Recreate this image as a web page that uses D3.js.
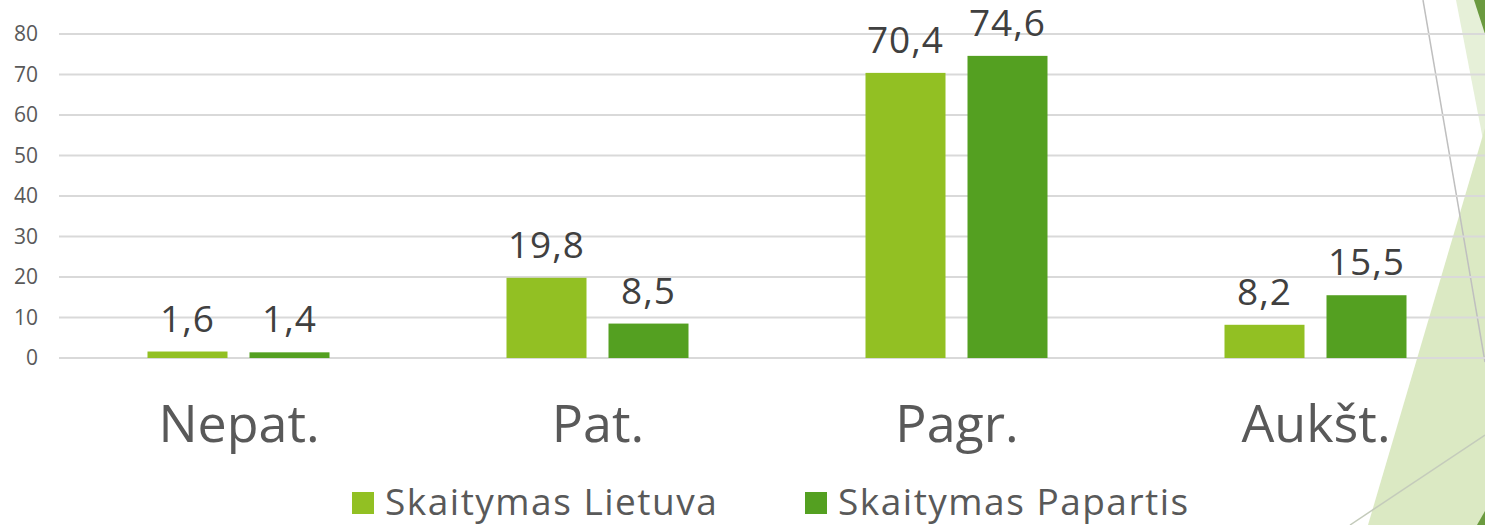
<!DOCTYPE html>
<html><head><meta charset="utf-8">
<script src="https://cdn.jsdelivr.net/npm/d3@7"></script>
<style>html,body{margin:0;padding:0;background:#fff;overflow:hidden}</style>
</head><body>
<svg id="c" width="1485" height="525"></svg>
<script>
const categories = ["Nepat.", "Pat.", "Pagr.", "Aukšt."];
const seriesNames = ["Skaitymas Lietuva", "Skaitymas Papartis"];
const lietuva = [1.6, 19.8, 70.4, 8.2];
const papartis = [1.4, 8.5, 74.6, 15.5];
const yTicks = [0, 10, 20, 30, 40, 50, 60, 70, 80];
const colors = ["#92C023", "#54A021"];
const fmt = v => String(v.toFixed(1)).replace(".", ",");

const svg = d3.select("#c");
const font = "'Open Sans', 'Noto Sans', sans-serif";

// decorative slide background
const deco = svg.append("g");
deco.append("polygon").attr("points", "1456,0 1485,0 1485,150").attr("fill", "#e6f0d8");
deco.append("polygon").attr("points", "1368,525 1485,128 1485,525").attr("fill", "#dbe9c3");
deco.append("polygon").attr("points", "1474,0 1485,0 1485,34").attr("fill", "#6b9a3f");
deco.append("polygon").attr("points", "1477,525 1485,525 1485,511").attr("fill", "#6b9a3f");
deco.append("line").attr("x1", 1423).attr("y1", 0).attr("x2", 1485).attr("y2", 362)
  .attr("stroke", "#bfbfbf").attr("stroke-width", 1.5);
deco.append("line").attr("x1", 1350).attr("y1", 525).attr("x2", 1485).attr("y2", 435)
  .attr("stroke", "#c4cbbb").attr("stroke-width", 1.5);

const x0 = d3.scaleBand().domain(categories).range([59.5, 1495.5]).paddingInner(0).paddingOuter(0);
const x1 = d3.scaleBand().domain(seriesNames).range([88, 270]).paddingInner(22 / 102).paddingOuter(0);
const y = d3.scaleLinear().domain([0, 80]).range([358, 34]);

// gridlines
svg.append("g").selectAll("line").data(yTicks).join("line")
  .attr("x1", 59).attr("x2", 1485)
  .attr("y1", d => y(d)).attr("y2", d => y(d))
  .attr("stroke", "#d9d9d9").attr("stroke-width", 2);

// y axis labels
const yAxis = svg.append("g").attr("transform", "translate(38,0)")
  .call(d3.axisLeft(y).tickValues(yTicks).tickSize(0).tickPadding(0));
yAxis.select(".domain").remove();
yAxis.selectAll("text").attr("font-family", font).attr("font-size", 21).attr("fill", "#595959");

// bars
const data = categories.map((c, i) => ({ c, vals: [lietuva[i], papartis[i]] }));
const groups = svg.append("g").selectAll("g").data(data).join("g")
  .attr("transform", d => `translate(${x0(d.c)},0)`);
groups.selectAll("rect").data(d => d.vals.map((v, j) => ({ s: seriesNames[j], v, j }))).join("rect")
  .attr("x", d => x1(d.s)).attr("width", x1.bandwidth())
  .attr("y", d => y(d.v)).attr("height", d => y(0) - y(d.v))
  .attr("fill", d => colors[d.j]);
groups.selectAll("text").data(d => d.vals.map((v, j) => ({ s: seriesNames[j], v, j }))).join("text")
  .attr("x", d => x1(d.s) + x1.bandwidth() / 2).attr("y", d => y(d.v) - 20)
  .attr("text-anchor", "middle").attr("font-family", font).attr("font-size", 37)
  .attr("letter-spacing", 1)
  .attr("fill", "#404040").text(d => fmt(d.v));

// category labels
const xAxis = svg.append("g").attr("transform", "translate(0,358)")
  .call(d3.axisBottom(x0).tickSize(0).tickPadding(0));
xAxis.select(".domain").remove();
xAxis.selectAll("text").attr("dy", null).attr("y", 84)
  .attr("font-family", font).attr("font-size", 52).attr("fill", "#595959");

// legend
const legX = [352, 805];
const leg = svg.append("g").selectAll("g").data(seriesNames).join("g")
  .attr("transform", (d, i) => `translate(${legX[i]},0)`);
leg.append("rect").attr("x", 0).attr("y", 492).attr("width", 22).attr("height", 22)
  .attr("fill", (d, i) => colors[i]);
leg.append("text").attr("x", 33).attr("y", 515).attr("font-family", font).attr("font-size", 37)
  .attr("letter-spacing", 1.5)
  .attr("fill", "#595959").text(d => d);
</script>
</body></html>
